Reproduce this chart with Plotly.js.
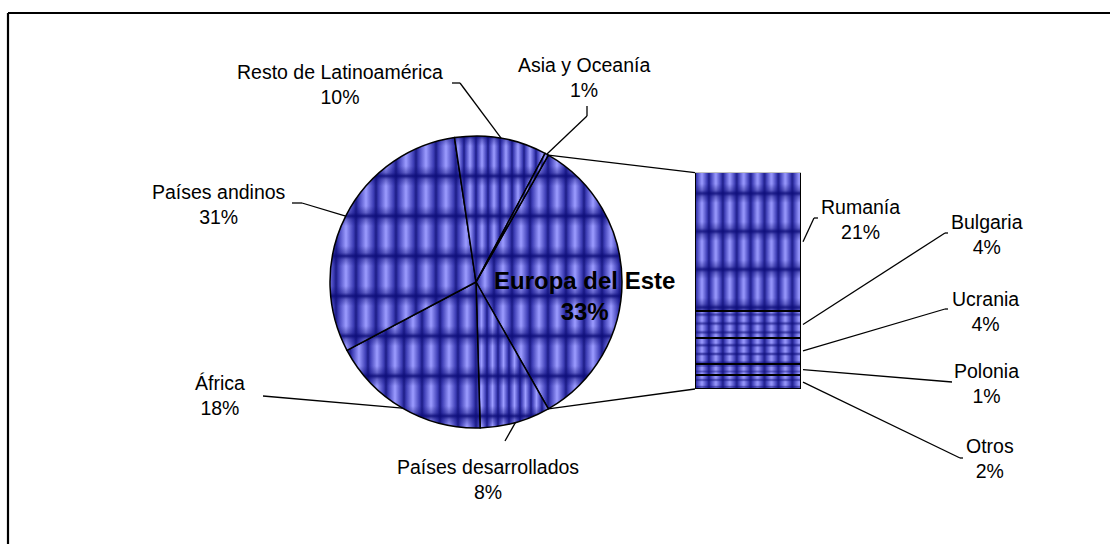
<!DOCTYPE html>
<html>
<head>
<meta charset="utf-8">
<script src="https://cdn.plot.ly/plotly-3.0.1.min.js"></script>
<style>
  html, body { margin: 0; padding: 0; background: #ffffff; }
  #chart { width: 1110px; height: 544px; }
</style>
</head>
<body>
<div id="chart"></div>
<script>
// ---------- DATA ----------
const pieLabels = ['Europa del Este', 'Países desarrollados', 'África', 'Países andinos', 'Resto de Latinoamérica', 'Asia y Oceanía'];
const pieValues = [33.5, 7.8, 17.7, 30.4, 10.2, 0.4];
const pieText   = ['33%', '8%', '18%', '31%', '10%', '1%'];

const barLabels = ['Rumanía', 'Bulgaria', 'Ucrania', 'Polonia', 'Otros'];
const barValues = [21.1, 4.1, 4.0, 1.7, 2.1];
const barText   = ['21%', '4%', '4%', '1%', '2%'];

// ---------- LAYOUT CONSTANTS (pixels) ----------
const W = 1110, H = 544;
const CX = 476, CY = 282, R = 146;           // pie centre / radius
const BX0 = 695, BX1 = 801, BTOP = 172.7, BBOT = 389; // bar box

const pieLabelPos = [[584, 296], [488, 479], [220, 395], [219, 204], [340, 84], [584, 77]];
const pieLeader = [null, [[505, 441]], [[263, 396]], [[292, 203], [302, 203]], [[452, 83], [460, 83]], [[587, 106], [587, 116]]];
const barLabelPos = [[860, 219], [987, 234], [985, 311], [986, 383], [990, 458]];
const barLeader = [[[818, 218], [814, 218]], [[948, 233], [945, 233]], [[948, 309], [945, 309]], [[952, 382]], [[963, 458], [960, 458]]];

const px = x => x / W;
const py = y => 1 - y / H;
const FONT = 'Liberation Sans, Arial, sans-serif';

// ---------- geometry derived from data ----------
const pieTotal = pieValues.reduce((a, b) => a + b, 0);
const rotation = 90 - (pieValues[0] / pieTotal) * 180;
const angles = [];  // [start, end] in degrees clockwise from 12 o'clock
{
  let a = rotation;
  pieValues.forEach(v => { const s = a; a += v / pieTotal * 360; angles.push([s, a]); });
}
const onCircle = deg => {
  const r = deg * Math.PI / 180;
  return [CX + R * Math.sin(r), CY - R * Math.cos(r)];
};
const barTotal = barValues.reduce((a, b) => a + b, 0);
const barMid = [];
{
  let top = BTOP;
  barValues.forEach(v => {
    const h = v / barTotal * (BBOT - BTOP);
    barMid.push(top + h / 2);
    top += h;
  });
}

// ---------- shapes ----------
const shapes = [];
function seg(a, b, w) {
  shapes.push({type: 'line', xref: 'paper', yref: 'paper',
    x0: px(a[0]), y0: py(a[1]), x1: px(b[0]), y1: py(b[1]),
    line: {color: '#000000', width: w || 1.3}});
}
function poly(pts, w) { for (let i = 0; i < pts.length - 1; i++) seg(pts[i], pts[i + 1], w); }

// chart border (top & left visible)
seg([8, 13], [W + 5, 13], 2.2);
seg([8, 13], [8, H + 5], 2.2);

// pie leaders
pieLeader.forEach((pts, i) => {
  if (!pts) return;
  const mid = (angles[i][0] + angles[i][1]) / 2;
  poly(pts.concat([onCircle(mid)]));
});
// bar leaders
barLeader.forEach((pts, i) => {
  poly(pts.concat([[BX1 + 2, barMid[i]]]));
});
// connectors pie -> bar
seg(onCircle(angles[0][0]), [BX0, BTOP], 1.3);
seg(onCircle(angles[0][1]), [BX0, BBOT], 1.3);

// ---------- annotations ----------
const annotations = [];
pieLabels.forEach((lab, i) => {
  const bold = i === 0;
  annotations.push({
    xref: 'paper', yref: 'paper', x: px(pieLabelPos[i][0]), y: py(pieLabelPos[i][1]),
    xanchor: 'center', yanchor: 'middle', align: 'center', showarrow: false,
    text: bold ? '<b>' + lab + '<br>' + pieText[i] + '</b>' : lab + '<br>' + pieText[i],
    font: {family: FONT, size: bold ? 24 : 19.5, color: '#000000'}
  });
});
barLabels.forEach((lab, i) => {
  annotations.push({
    xref: 'paper', yref: 'paper', x: px(barLabelPos[i][0]), y: py(barLabelPos[i][1]),
    xanchor: 'center', yanchor: 'middle', align: 'center', showarrow: false,
    text: lab + '<br>' + barText[i],
    font: {family: FONT, size: 19.5, color: '#000000'}
  });
});

// ---------- traces ----------
const traces = [{
  type: 'pie',
  labels: pieLabels,
  values: pieValues,
  sort: false,
  direction: 'clockwise',
  rotation: rotation,
  textinfo: 'none',
  hoverinfo: 'none',
  marker: {colors: pieLabels.map(() => '#6363d8'), line: {color: '#000000', width: 1.5}},
  domain: {x: [px(CX - R), px(CX + R)], y: [py(CY + R), py(CY - R)]},
  showlegend: false
}];
// stacked bar: bottom first
for (let i = barLabels.length - 1; i >= 0; i--) {
  traces.push({
    type: 'bar', name: barLabels[i], x: [0], y: [barValues[i]], width: [1],
    marker: {color: '#6363d8', line: {color: '#000000', width: 1.5}},
    hoverinfo: 'none', showlegend: false
  });
}

const layout = {
  width: W, height: H,
  margin: {l: 0, r: 0, t: 0, b: 0},
  paper_bgcolor: '#ffffff', plot_bgcolor: 'rgba(0,0,0,0)',
  barmode: 'stack', bargap: 0,
  showlegend: false,
  xaxis: {domain: [px(BX0), px(BX1)], range: [-0.5, 0.5], visible: false, fixedrange: true},
  yaxis: {domain: [py(BBOT), py(BTOP)], range: [0, barTotal], visible: false, fixedrange: true},
  shapes: shapes,
  annotations: annotations,
  font: {family: FONT}
};

Plotly.newPlot('chart', traces, layout, {staticPlot: true, displayModeBar: false}).then(() => {
  const NS = 'http://www.w3.org/2000/svg';
  const defs = document.querySelector('#chart .main-svg defs');
  function el(tag, attrs, parent) {
    const e = document.createElementNS(NS, tag);
    Object.keys(attrs).forEach(k => e.setAttribute(k, attrs[k]));
    if (parent) parent.appendChild(e);
    return e;
  }
  const gH = el('linearGradient', {id: 'texH', x1: 0, y1: 0, x2: 1, y2: 0}, defs);
  [[0, '#1c1c86'], [0.12, '#3c3cb4'], [0.5, '#9c9cff'], [0.88, '#3c3cb4'], [1, '#1c1c86']]
    .forEach(s => el('stop', {offset: s[0], 'stop-color': s[1]}, gH));
  const gV = el('linearGradient', {id: 'texV', x1: 0, y1: 0, x2: 0, y2: 1}, defs);
  [[0, 0.9], [0.08, 0.4], [0.25, 0], [0.75, 0], [0.92, 0.4], [1, 0.9]]
    .forEach(s => el('stop', {offset: s[0], 'stop-color': '#0c0c78', 'stop-opacity': s[1]}, gV));
  function pattern(id, w, h, ox, oy) {
    const p = el('pattern', {id: id, patternUnits: 'userSpaceOnUse', width: w, height: h, x: ox, y: oy}, defs);
    el('rect', {x: 0, y: 0, width: w, height: h, fill: 'url(#texH)'}, p);
    el('rect', {x: 0, y: 0, width: w, height: h, fill: 'url(#texV)'}, p);
    return 'url(#' + id + ')';
  }
  // tile sizes per slice / segment (style only)
  const pieTiles = [[18, 40], [11, 40], [18, 40], [20, 40], [12, 40], [6, 40]];
  const barTiles = [[13.9, 38], [13.9, 8.9], [13.9, 8.7], [13.9, 5.7], [13.9, 7]];
  const slices = document.querySelectorAll('#chart .pielayer .slice path.surface');
  slices.forEach((p, i) => {
    const t = pieTiles[i] || [18, 40];
    p.style.fill = pattern('pt' + i, t[0], t[1], CX, 136);
  });
  const barTraces = document.querySelectorAll('#chart .barlayer .trace');
  barTraces.forEach((tr, j) => {
    const i = barLabels.length - 1 - j;
    const t = barTiles[i];
    let top = BTOP;
    for (let k = 0; k < i; k++) top += barValues[k] / barTotal * (BBOT - BTOP);
    const fill = pattern('bt' + i, t[0], t[1], BX0, top);
    tr.querySelectorAll('.point path').forEach(p => { p.style.fill = fill; });
  });
});
</script>
</body>
</html>
